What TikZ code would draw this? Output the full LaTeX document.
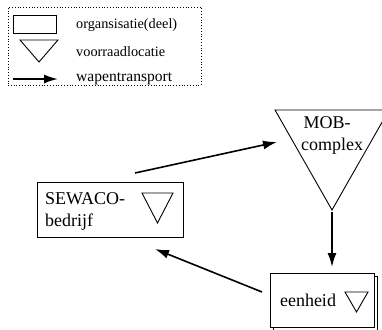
\documentclass[tikz,border=0pt]{standalone}
\usepackage{graphicx}
\usepackage{fontspec}
\setmainfont{Liberation Serif}
\usetikzlibrary{arrows.meta}
\newcommand{\mainfont}{\fontsize{18}{22}\selectfont}
\tikzset{
  box/.style={draw, line width=0.9pt, fill=white, inner sep=0pt},
  tri/.style={draw, line width=0.9pt, line join=miter},
  flow/.style={line width=1.6pt, -{Latex[length=14pt,width=9pt]}},
  legtext/.style={anchor=west, inner sep=0pt},
  maintext/.style={inner sep=0pt},
}
\begin{document}
\begin{tikzpicture}[x=1pt,y=-1pt]
\useasboundingbox (0,0) rectangle (382,329);
\clip (0,0) rectangle (382,329);
% legend
\node[draw, dotted, line width=0.8pt, minimum width=193pt, minimum height=78pt, inner sep=0pt] (legend) at (104.5,46) {};
\node[box, minimum width=43pt, minimum height=18pt] (legrect) at (34.5,24) {};
\draw[tri] (20,40) coordinate (lt1) -- (58,40) coordinate (lt2) -- (39,62) coordinate (lt3) -- cycle;
\coordinate (la1) at (13,79);
\coordinate (la2) at (58,79);
\draw[flow] (la1) -- (la2);
\node[legtext] (l1) at (76,25) {\resizebox{101pt}{!}{organsisatie(deel)}};
\node[legtext] (l2) at (76,52) {\resizebox{89pt}{!}{voorraadlocatie}};
\node[legtext] (l3) at (76,79) {\resizebox{96pt}{!}{wapentransport}};
% SEWACO box
\node[box, minimum width=146pt, minimum height=55pt] (sewaco) at (110,209.5) {};
\node[maintext, anchor=west, align=left, font=\mainfont] (sewtext) at (45,211) {SEWACO-\\bedrijf};
\draw[tri] (142,193) -- (173,193) -- (157.5,223) -- cycle;
% MOB triangle
\draw[tri] (275,110) coordinate (mob1) -- (389,110) coordinate (mob2) -- (332,210) coordinate (mobapex) -- cycle;
\node[maintext] (mob) at (327,123) {\mainfont MOB-};
\node[maintext] (complex) at (332,146) {\mainfont complex};
% eenheid box (stacked)
\node[box, minimum width=104pt, minimum height=54pt] (eenback) at (325,303) {};
\node[box, minimum width=104pt, minimum height=54pt] (eenheid) at (322,300) {};
\node[maintext] (eentext) at (308,300) {\mainfont eenheid};
\draw[tri] (345,292) -- (368,292) -- (356.5,312) -- cycle;
% connectors
\coordinate (a1s) at (135,173);
\coordinate (a1e) at (277,142);
\draw[flow] (a1s) -- (a1e);
\coordinate (a2s) at (332,212);
\coordinate (a2e) at (332,267);
\draw[flow] (a2s) -- (a2e);
\coordinate (a3s) at (262,292);
\coordinate (a3e) at (155,249);
\draw[flow] (a3s) -- (a3e);
\end{tikzpicture}
\end{document}
